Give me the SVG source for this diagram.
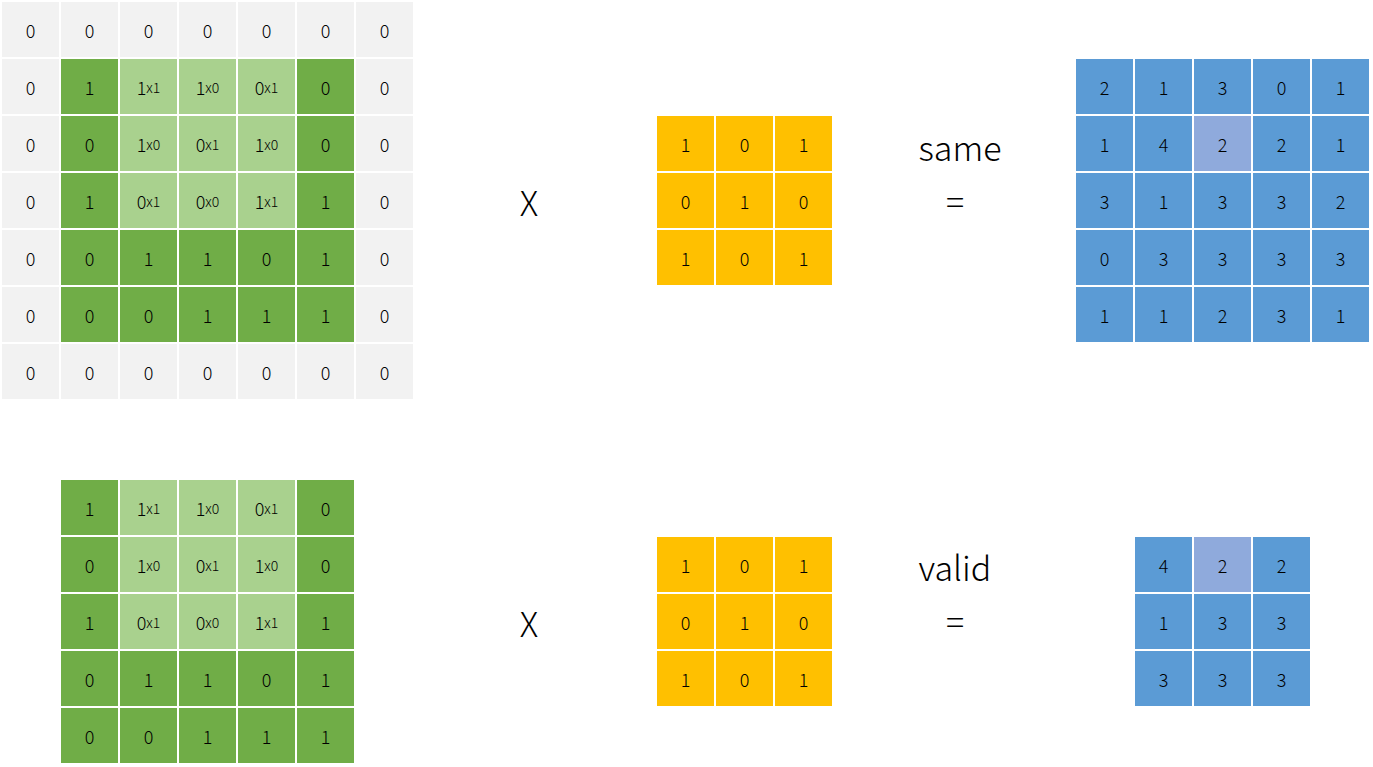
<svg xmlns="http://www.w3.org/2000/svg" width="1373" height="767" viewBox="0 0 1373 767">
<style>
rect{width:57px;height:55px}
.z{fill:#F2F2F2}.d{fill:#70AD47}.l{fill:#A9D18E}.o{fill:#FFC000}.b{fill:#5B9BD5}.h{fill:#8FAADC}
text{font-family:"Noto Sans CJK SC","Liberation Sans",sans-serif;font-weight:300;font-size:18px;fill:#000;text-anchor:middle;dominant-baseline:central}
.s{font-size:14px}
.big{font-size:34px}
</style>
<rect width="1373" height="767" fill="#fff" style="width:1373px;height:767px"/>
<g id="input-padded">
<rect class="z" x="2" y="2"/><rect class="z" x="61" y="2"/><rect class="z" x="120" y="2"/><rect class="z" x="179" y="2"/><rect class="z" x="238" y="2"/><rect class="z" x="297" y="2"/><rect class="z" x="356" y="2"/>
<rect class="z" x="2" y="59"/><rect class="d" x="61" y="59"/><rect class="l" x="120" y="59"/><rect class="l" x="179" y="59"/><rect class="l" x="238" y="59"/><rect class="d" x="297" y="59"/><rect class="z" x="356" y="59"/>
<rect class="z" x="2" y="116"/><rect class="d" x="61" y="116"/><rect class="l" x="120" y="116"/><rect class="l" x="179" y="116"/><rect class="l" x="238" y="116"/><rect class="d" x="297" y="116"/><rect class="z" x="356" y="116"/>
<rect class="z" x="2" y="173"/><rect class="d" x="61" y="173"/><rect class="l" x="120" y="173"/><rect class="l" x="179" y="173"/><rect class="l" x="238" y="173"/><rect class="d" x="297" y="173"/><rect class="z" x="356" y="173"/>
<rect class="z" x="2" y="230"/><rect class="d" x="61" y="230"/><rect class="d" x="120" y="230"/><rect class="d" x="179" y="230"/><rect class="d" x="238" y="230"/><rect class="d" x="297" y="230"/><rect class="z" x="356" y="230"/>
<rect class="z" x="2" y="287"/><rect class="d" x="61" y="287"/><rect class="d" x="120" y="287"/><rect class="d" x="179" y="287"/><rect class="d" x="238" y="287"/><rect class="d" x="297" y="287"/><rect class="z" x="356" y="287"/>
<rect class="z" x="2" y="344"/><rect class="z" x="61" y="344"/><rect class="z" x="120" y="344"/><rect class="z" x="179" y="344"/><rect class="z" x="238" y="344"/><rect class="z" x="297" y="344"/><rect class="z" x="356" y="344"/>
<text x="30.5" y="29.5">0</text><text x="89.5" y="29.5">0</text><text x="148.5" y="29.5">0</text><text x="207.5" y="29.5">0</text><text x="266.5" y="29.5">0</text><text x="325.5" y="29.5">0</text><text x="384.5" y="29.5">0</text>
<text x="30.5" y="86.5">0</text><text x="89.5" y="86.5">1</text><text x="148.5" y="86.5">1<tspan class="s">x1</tspan></text><text x="207.5" y="86.5">1<tspan class="s">x0</tspan></text><text x="266.5" y="86.5">0<tspan class="s">x1</tspan></text><text x="325.5" y="86.5">0</text><text x="384.5" y="86.5">0</text>
<text x="30.5" y="143.5">0</text><text x="89.5" y="143.5">0</text><text x="148.5" y="143.5">1<tspan class="s">x0</tspan></text><text x="207.5" y="143.5">0<tspan class="s">x1</tspan></text><text x="266.5" y="143.5">1<tspan class="s">x0</tspan></text><text x="325.5" y="143.5">0</text><text x="384.5" y="143.5">0</text>
<text x="30.5" y="200.5">0</text><text x="89.5" y="200.5">1</text><text x="148.5" y="200.5">0<tspan class="s">x1</tspan></text><text x="207.5" y="200.5">0<tspan class="s">x0</tspan></text><text x="266.5" y="200.5">1<tspan class="s">x1</tspan></text><text x="325.5" y="200.5">1</text><text x="384.5" y="200.5">0</text>
<text x="30.5" y="257.5">0</text><text x="89.5" y="257.5">0</text><text x="148.5" y="257.5">1</text><text x="207.5" y="257.5">1</text><text x="266.5" y="257.5">0</text><text x="325.5" y="257.5">1</text><text x="384.5" y="257.5">0</text>
<text x="30.5" y="314.5">0</text><text x="89.5" y="314.5">0</text><text x="148.5" y="314.5">0</text><text x="207.5" y="314.5">1</text><text x="266.5" y="314.5">1</text><text x="325.5" y="314.5">1</text><text x="384.5" y="314.5">0</text>
<text x="30.5" y="371.5">0</text><text x="89.5" y="371.5">0</text><text x="148.5" y="371.5">0</text><text x="207.5" y="371.5">0</text><text x="266.5" y="371.5">0</text><text x="325.5" y="371.5">0</text><text x="384.5" y="371.5">0</text>
</g>
<g id="op-top"><text class="big" x="529" y="201">X</text></g>
<g id="kernel-top">
<rect class="o" x="657" y="116"/><rect class="o" x="716" y="116"/><rect class="o" x="775" y="116"/>
<rect class="o" x="657" y="173"/><rect class="o" x="716" y="173"/><rect class="o" x="775" y="173"/>
<rect class="o" x="657" y="230"/><rect class="o" x="716" y="230"/><rect class="o" x="775" y="230"/>
<text x="685.5" y="143.5">1</text><text x="744.5" y="143.5">0</text><text x="803.5" y="143.5">1</text>
<text x="685.5" y="200.5">0</text><text x="744.5" y="200.5">1</text><text x="803.5" y="200.5">0</text>
<text x="685.5" y="257.5">1</text><text x="744.5" y="257.5">0</text><text x="803.5" y="257.5">1</text>
</g>
<g id="label-same"><text class="big" x="960" y="146">same</text><text class="big" x="955" y="200">=</text></g>
<g id="output-same">
<rect class="b" x="1076" y="59"/><rect class="b" x="1135" y="59"/><rect class="b" x="1194" y="59"/><rect class="b" x="1253" y="59"/><rect class="b" x="1312" y="59"/>
<rect class="b" x="1076" y="116"/><rect class="b" x="1135" y="116"/><rect class="h" x="1194" y="116"/><rect class="b" x="1253" y="116"/><rect class="b" x="1312" y="116"/>
<rect class="b" x="1076" y="173"/><rect class="b" x="1135" y="173"/><rect class="b" x="1194" y="173"/><rect class="b" x="1253" y="173"/><rect class="b" x="1312" y="173"/>
<rect class="b" x="1076" y="230"/><rect class="b" x="1135" y="230"/><rect class="b" x="1194" y="230"/><rect class="b" x="1253" y="230"/><rect class="b" x="1312" y="230"/>
<rect class="b" x="1076" y="287"/><rect class="b" x="1135" y="287"/><rect class="b" x="1194" y="287"/><rect class="b" x="1253" y="287"/><rect class="b" x="1312" y="287"/>
<text x="1104.5" y="86.5">2</text><text x="1163.5" y="86.5">1</text><text x="1222.5" y="86.5">3</text><text x="1281.5" y="86.5">0</text><text x="1340.5" y="86.5">1</text>
<text x="1104.5" y="143.5">1</text><text x="1163.5" y="143.5">4</text><text x="1222.5" y="143.5">2</text><text x="1281.5" y="143.5">2</text><text x="1340.5" y="143.5">1</text>
<text x="1104.5" y="200.5">3</text><text x="1163.5" y="200.5">1</text><text x="1222.5" y="200.5">3</text><text x="1281.5" y="200.5">3</text><text x="1340.5" y="200.5">2</text>
<text x="1104.5" y="257.5">0</text><text x="1163.5" y="257.5">3</text><text x="1222.5" y="257.5">3</text><text x="1281.5" y="257.5">3</text><text x="1340.5" y="257.5">3</text>
<text x="1104.5" y="314.5">1</text><text x="1163.5" y="314.5">1</text><text x="1222.5" y="314.5">2</text><text x="1281.5" y="314.5">3</text><text x="1340.5" y="314.5">1</text>
</g>
<g id="input-valid">
<rect class="d" x="61" y="480"/><rect class="l" x="120" y="480"/><rect class="l" x="179" y="480"/><rect class="l" x="238" y="480"/><rect class="d" x="297" y="480"/>
<rect class="d" x="61" y="537"/><rect class="l" x="120" y="537"/><rect class="l" x="179" y="537"/><rect class="l" x="238" y="537"/><rect class="d" x="297" y="537"/>
<rect class="d" x="61" y="594"/><rect class="l" x="120" y="594"/><rect class="l" x="179" y="594"/><rect class="l" x="238" y="594"/><rect class="d" x="297" y="594"/>
<rect class="d" x="61" y="651"/><rect class="d" x="120" y="651"/><rect class="d" x="179" y="651"/><rect class="d" x="238" y="651"/><rect class="d" x="297" y="651"/>
<rect class="d" x="61" y="708"/><rect class="d" x="120" y="708"/><rect class="d" x="179" y="708"/><rect class="d" x="238" y="708"/><rect class="d" x="297" y="708"/>
<text x="89.5" y="507.5">1</text><text x="148.5" y="507.5">1<tspan class="s">x1</tspan></text><text x="207.5" y="507.5">1<tspan class="s">x0</tspan></text><text x="266.5" y="507.5">0<tspan class="s">x1</tspan></text><text x="325.5" y="507.5">0</text>
<text x="89.5" y="564.5">0</text><text x="148.5" y="564.5">1<tspan class="s">x0</tspan></text><text x="207.5" y="564.5">0<tspan class="s">x1</tspan></text><text x="266.5" y="564.5">1<tspan class="s">x0</tspan></text><text x="325.5" y="564.5">0</text>
<text x="89.5" y="621.5">1</text><text x="148.5" y="621.5">0<tspan class="s">x1</tspan></text><text x="207.5" y="621.5">0<tspan class="s">x0</tspan></text><text x="266.5" y="621.5">1<tspan class="s">x1</tspan></text><text x="325.5" y="621.5">1</text>
<text x="89.5" y="678.5">0</text><text x="148.5" y="678.5">1</text><text x="207.5" y="678.5">1</text><text x="266.5" y="678.5">0</text><text x="325.5" y="678.5">1</text>
<text x="89.5" y="735.5">0</text><text x="148.5" y="735.5">0</text><text x="207.5" y="735.5">1</text><text x="266.5" y="735.5">1</text><text x="325.5" y="735.5">1</text>
</g>
<g id="op-bottom"><text class="big" x="529" y="622">X</text></g>
<g id="kernel-bottom">
<rect class="o" x="657" y="537"/><rect class="o" x="716" y="537"/><rect class="o" x="775" y="537"/>
<rect class="o" x="657" y="594"/><rect class="o" x="716" y="594"/><rect class="o" x="775" y="594"/>
<rect class="o" x="657" y="651"/><rect class="o" x="716" y="651"/><rect class="o" x="775" y="651"/>
<text x="685.5" y="564.5">1</text><text x="744.5" y="564.5">0</text><text x="803.5" y="564.5">1</text>
<text x="685.5" y="621.5">0</text><text x="744.5" y="621.5">1</text><text x="803.5" y="621.5">0</text>
<text x="685.5" y="678.5">1</text><text x="744.5" y="678.5">0</text><text x="803.5" y="678.5">1</text>
</g>
<g id="label-valid"><text class="big" x="955" y="566">valid</text><text class="big" x="955" y="620">=</text></g>
<g id="output-valid">
<rect class="b" x="1135" y="537"/><rect class="h" x="1194" y="537"/><rect class="b" x="1253" y="537"/>
<rect class="b" x="1135" y="594"/><rect class="b" x="1194" y="594"/><rect class="b" x="1253" y="594"/>
<rect class="b" x="1135" y="651"/><rect class="b" x="1194" y="651"/><rect class="b" x="1253" y="651"/>
<text x="1163.5" y="564.5">4</text><text x="1222.5" y="564.5">2</text><text x="1281.5" y="564.5">2</text>
<text x="1163.5" y="621.5">1</text><text x="1222.5" y="621.5">3</text><text x="1281.5" y="621.5">3</text>
<text x="1163.5" y="678.5">3</text><text x="1222.5" y="678.5">3</text><text x="1281.5" y="678.5">3</text>
</g>
<g id="connectors"/>
</svg>
